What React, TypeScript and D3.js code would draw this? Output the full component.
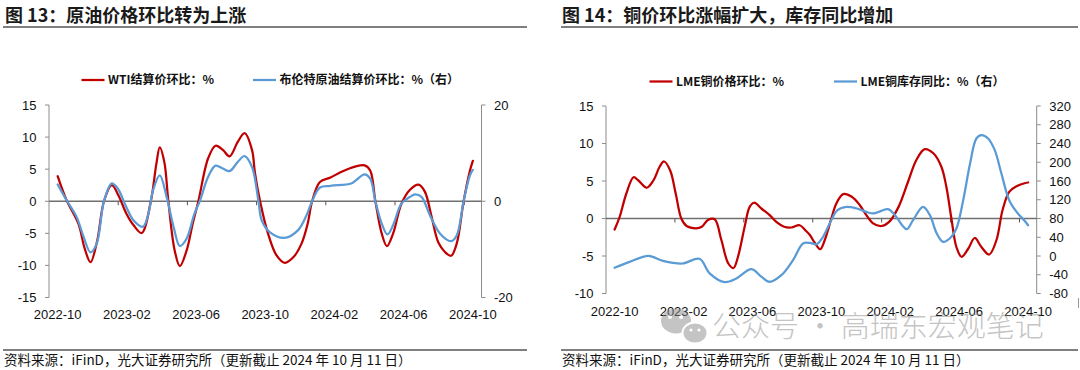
import React from "react";
import * as d3 from "d3";

// ---------- categories / tick labels ----------
const months = [
  "2022-10","2022-11","2022-12","2023-01","2023-02","2023-03","2023-04","2023-05","2023-06",
  "2023-07","2023-08","2023-09","2023-10","2023-11","2023-12","2024-01","2024-02","2024-03",
  "2024-04","2024-05","2024-06","2024-07","2024-08","2024-09","2024-10",
];
const monthTickLabels = ["2022-10","2023-02","2023-06","2023-10","2024-02","2024-06","2024-10"];

// ---------- Fig 13: WTI (left axis) ----------
const wtiDates = ["2022-10-01","2022-10-17","2022-11-07","2022-11-18","2022-11-28","2022-12-10","2022-12-22","2023-01-05","2023-01-17","2023-01-31","2023-02-12","2023-02-25","2023-03-13","2023-03-23","2023-03-29","2023-04-06","2023-04-13","2023-04-24","2023-05-03","2023-05-15","2023-05-26","2023-06-05","2023-06-22","2023-07-05","2023-07-18","2023-07-30","2023-08-14","2023-08-26","2023-09-08","2023-09-13","2023-09-22","2023-10-06","2023-10-21","2023-11-05","2023-11-20","2023-12-04","2023-12-15","2023-12-23","2024-01-06","2024-01-25","2024-02-13","2024-03-07","2024-03-24","2024-04-03","2024-04-12","2024-04-23","2024-05-02","2024-05-13","2024-05-28","2024-06-12","2024-06-27","2024-07-08","2024-07-20","2024-08-01","2024-08-13","2024-08-24","2024-09-03","2024-09-15","2024-09-26","2024-10-01"];
const wtiValues = [3.9,0.15,-3.5,-7.4,-9.5,-6.1,0,2.5,0.9,-1.9,-3.75,-4.95,0,5.9,8.4,6.1,0,-7.7,-10.1,-7.7,-3.5,0,6.7,8.65,8.0,7.0,9.3,10.6,8.0,4.5,0,-5.05,-8.4,-9.6,-8.7,-6.6,-3.5,0,3.0,3.7,4.6,5.4,5.6,4.8,0,-5.05,-7.0,-5.05,-0.4,1.8,2.6,1.5,-2.4,-6.4,-7.9,-8.5,-6.6,0,4.8,6.3];

// ---------- Fig 13: Brent (right axis) ----------
const brentDates = ["2022-10-01","2022-10-17","2022-11-04","2022-11-16","2022-11-28","2022-12-09","2022-12-22","2023-01-05","2023-01-16","2023-01-31","2023-02-12","2023-02-27","2023-03-08","2023-03-17","2023-03-29","2023-04-10","2023-04-22","2023-05-03","2023-05-15","2023-05-29","2023-06-08","2023-06-22","2023-07-05","2023-07-18","2023-07-30","2023-08-14","2023-08-26","2023-09-08","2023-09-19","2023-09-25","2023-10-09","2023-11-05","2023-11-28","2023-12-13","2023-12-23","2024-01-06","2024-01-25","2024-02-29","2024-03-09","2024-03-24","2024-04-03","2024-04-12","2024-04-23","2024-05-03","2024-05-13","2024-05-28","2024-06-12","2024-06-21","2024-07-02","2024-07-17","2024-08-04","2024-08-24","2024-09-03","2024-09-15","2024-09-26","2024-10-01"];
const brentValues = [3.5,0.2,-3.3,-7.4,-10.6,-8.8,0,3.7,2.6,-1.2,-4.0,-5.3,-2.9,2.3,5.4,0.9,-5.3,-9.3,-7.8,-2.6,0.2,5.1,7.4,6.8,6.25,8.2,9.4,7.15,0.2,-4.0,-6.4,-7.6,-6.0,-2.9,0,2.85,3.2,3.7,4.4,5.6,4.7,0,-4.65,-6.9,-5.0,-0.5,0.9,1.45,0.9,-2.9,-6.7,-8.3,-7.1,0,5.4,6.5];

// ---------- Fig 14: LME copper price MoM (left axis) ----------
const lmePriceDates = ["2022-10-01","2022-10-10","2022-10-22","2022-11-04","2022-11-12","2022-11-27","2022-12-09","2022-12-20","2022-12-28","2023-01-08","2023-01-18","2023-01-28","2023-02-06","2023-02-21","2023-03-03","2023-03-14","2023-03-26","2023-04-07","2023-04-19","2023-04-28","2023-05-06","2023-05-18","2023-05-27","2023-06-04","2023-06-17","2023-07-01","2023-07-13","2023-07-27","2023-08-09","2023-08-24","2023-09-03","2023-09-11","2023-09-20","2023-09-29","2023-10-07","2023-10-19","2023-10-28","2023-11-09","2023-11-24","2023-12-08","2023-12-20","2024-01-01","2024-01-16","2024-01-30","2024-02-15","2024-03-02","2024-03-17","2024-04-01","2024-04-16","2024-04-30","2024-05-09","2024-05-18","2024-05-27","2024-06-05","2024-06-17","2024-06-28","2024-07-10","2024-07-24","2024-08-06","2024-08-17","2024-08-29","2024-09-11","2024-09-25","2024-10-01"];
const lmePriceValues = [-1.47,0.2,3.3,5.5,5.1,4.1,5.1,6.9,7.6,6.4,3.3,0,-1.0,-1.3,-1.1,-0.2,-0.1,-2.9,-6.0,-6.6,-5.1,-1.1,1.55,2.1,1.3,0.45,-0.45,-1.1,-1.2,-0.9,-1.55,-2.2,-3.3,-4.1,-2.9,0,2.0,3.25,2.9,1.8,0.45,-0.65,-1.0,-0.45,1.55,4.9,7.8,9.25,8.7,6.9,4.2,0,-3.8,-5.1,-4.0,-2.6,-3.8,-4.8,-2.9,1.1,3.55,4.3,4.7,4.8];

// ---------- Fig 14: LME copper inventory YoY (right axis) ----------
const lmeStockDates = ["2022-10-01","2022-10-28","2022-11-30","2022-12-26","2023-01-30","2023-02-27","2023-03-17","2023-04-13","2023-05-03","2023-05-30","2023-06-17","2023-07-01","2023-07-22","2023-08-12","2023-08-30","2023-09-11","2023-09-23","2023-10-04","2023-10-16","2023-10-30","2023-11-15","2023-12-03","2023-12-20","2024-01-01","2024-01-16","2024-01-28","2024-02-09","2024-02-21","2024-02-29","2024-03-11","2024-03-29","2024-04-10","2024-04-22","2024-05-03","2024-05-15","2024-05-27","2024-06-08","2024-06-20","2024-07-01","2024-07-10","2024-07-22","2024-08-03","2024-08-15","2024-08-29","2024-09-11","2024-09-25","2024-10-01"];
const lmeStockValues = [-25,-12.5,0.3,-10.3,-16,-6,-37,-55.8,-48,-28,-44.5,-55.1,-41,-8.9,26.7,28,25,40.9,69.3,97.8,104.9,101.3,94.2,90.7,96.4,99.9,87.1,65.8,57.2,76.4,104.9,87.1,48,30.2,37.3,58.7,119.1,197.4,250.7,257.8,250.7,225.8,176,119.1,94.2,75,65.7];

// ---------- axis ticks ----------
const fig13LeftTicks = [15, 10, 5, 0, -5, -10, -15];
const fig13RightTicks = [20, 0, -20];
const fig14LeftTicks = [15, 10, 5, 0, -5, -10];
const fig14RightTicks = [320, 280, 240, 200, 160, 120, 80, 40, 0, -40, -80];

const RED = "#C00000";
const BLUE = "#5B9BD5";
const CJK = "'Noto Sans CJK SC', 'Noto Sans', sans-serif";
const NUM = "'Liberation Sans', Arial, sans-serif";
const AXIS = "#8c8c8c";

type Series = { dates: string[]; values: number[]; color: string; axis: "left" | "right" };

type PanelProps = {
  x0: number; x1: number; y0: number; y1: number;
  leftDomain: [number, number]; rightDomain: [number, number];
  leftTicks: number[]; rightTicks: number[];
  series: Series[]; labelY: number;
};

function Panel(p: PanelProps) {
  const band = d3.scaleBand<string>().domain(months).range([p.x0, p.x1]).paddingInner(0).paddingOuter(0);
  const bw = band.bandwidth();
  const yL = d3.scaleLinear().domain(p.leftDomain).range([p.y1, p.y0]);
  const yR = d3.scaleLinear().domain(p.rightDomain).range([p.y1, p.y0]);
  const xOf = (s: string) => {
    const key = s.slice(0, 7);
    const day = +s.slice(8, 10);
    const dim = new Date(+s.slice(0, 4), +s.slice(5, 7), 0).getDate();
    return (band(key) as number) + bw * (0.5 + (day - 1) / dim);
  };
  const zeroY = yL(0);
  const tickBoundaries = months.map((m, i) => i).filter((i) => i > 0 && i % 4 === 0);

  return (
    <g>
      {/* left axis */}
      <line x1={p.x0} x2={p.x0} y1={p.y0} y2={p.y1} stroke={AXIS} strokeWidth={1} />
      {p.leftTicks.map((t) => (
        <g key={"l" + t}>
          <line x1={p.x0 - 4} x2={p.x0} y1={yL(t)} y2={yL(t)} stroke={AXIS} strokeWidth={1} />
          <text x={p.x0 - 12.5} y={yL(t)} dy="0.35em" textAnchor="end" fontSize={13} fontFamily={NUM} fill="#111">{t}</text>
        </g>
      ))}
      {/* right axis */}
      <line x1={p.x1} x2={p.x1} y1={p.y0} y2={p.y1} stroke={AXIS} strokeWidth={1} />
      {p.rightTicks.map((t) => (
        <g key={"r" + t}>
          <line x1={p.x1} x2={p.x1 + 4} y1={yR(t)} y2={yR(t)} stroke={AXIS} strokeWidth={1} />
          <text x={p.x1 + 12.5} y={yR(t)} dy="0.35em" textAnchor="start" fontSize={13} fontFamily={NUM} fill="#111">{t}</text>
        </g>
      ))}
      {/* zero line + category ticks */}
      <line x1={p.x0} x2={p.x1} y1={zeroY} y2={zeroY} stroke="#707070" strokeWidth={1.3} />
      {tickBoundaries.map((i) => {
        const x = band(months[i]) as number;
        return <line key={"t" + i} x1={x} x2={x} y1={zeroY} y2={zeroY + 4} stroke="#555" strokeWidth={1} />;
      })}
      {monthTickLabels.map((m) => (
        <text key={m} x={(band(m) as number) + bw / 2} y={p.labelY} dy="0.35em" textAnchor="middle" fontSize={13} fontFamily={NUM} fill="#111">{m}</text>
      ))}
      {/* series */}
      {p.series.map((s, si) => {
        const y = s.axis === "left" ? yL : yR;
        const n = Math.min(s.dates.length, s.values.length);
        const pts: [number, number][] = d3.range(n).map((i) => [xOf(s.dates[i]), y(s.values[i])]);
        const path = d3.line().curve(d3.curveCatmullRom.alpha(0.5))(pts) || "";
        return <path key={si} d={path} fill="none" stroke={s.color} strokeWidth={2.25} strokeLinejoin="round" strokeLinecap="round" />;
      })}
    </g>
  );
}

function Legend({ items }: { items: { x: number; y: number; color: string; label: string }[] }) {
  return (
    <g>
      {items.map((it) => (
        <g key={it.label}>
          <line x1={it.x} x2={it.x + 23} y1={it.y} y2={it.y} stroke={it.color} strokeWidth={2.25} />
          <text x={it.x + 26.5} y={it.y} dy="0.36em" fontSize={12} fontWeight="bold" fontFamily={CJK} fill="#111">{it.label}</text>
        </g>
      ))}
    </g>
  );
}

export default function App() {
  const source = "资料来源：iFinD，光大证券研究所（更新截止 2024 年 10 月 11 日）";
  return (
    <svg width={1080} height={370} viewBox="0 0 1080 370" style={{ position: "absolute", left: 0, top: 0, display: "block" }}>
      <rect x={0} y={0} width={1080} height={370} fill="#ffffff" />

      {/* titles */}
      <text x={5} y={21.5} fontSize={18} fontWeight="bold" fontFamily={CJK} fill="#1a1a1a">图 13：原油价格环比转为上涨</text>
      <line x1={3} x2={527} y1={27} y2={27} stroke="#000" strokeWidth={1.2} />
      <text x={562} y={21.5} fontSize={18} fontWeight="bold" fontFamily={CJK} fill="#1a1a1a">图 14：铜价环比涨幅扩大，库存同比增加</text>
      <line x1={561} x2={1078} y1={27} y2={27} stroke="#000" strokeWidth={1.2} />

      {/* legends */}
      <Legend items={[
        { x: 81.5, y: 80, color: RED, label: "WTI结算价环比：%" },
        { x: 253, y: 80, color: BLUE, label: "布伦特原油结算价环比：%（右）" },
      ]} />
      <Legend items={[
        { x: 649.5, y: 81.5, color: RED, label: "LME铜价格环比：%" },
        { x: 834, y: 81.5, color: BLUE, label: "LME铜库存同比：%（右）" },
      ]} />

      <Panel
        x0={49} x1={481.5} y0={105} y1={297.5}
        leftDomain={[-15, 15]} rightDomain={[-20, 20]}
        leftTicks={fig13LeftTicks} rightTicks={fig13RightTicks}
        labelY={314.5}
        series={[
          { dates: wtiDates, values: wtiValues, color: RED, axis: "left" },
          { dates: brentDates, values: brentValues, color: BLUE, axis: "right" },
        ]}
      />
      <Panel
        x0={606} x1={1036.7} y0={106} y1={293.5}
        leftDomain={[-10, 15]} rightDomain={[-80, 320]}
        leftTicks={fig14LeftTicks} rightTicks={fig14RightTicks}
        labelY={311}
        series={[
          { dates: lmePriceDates, values: lmePriceValues, color: RED, axis: "left" },
          { dates: lmeStockDates, values: lmeStockValues, color: BLUE, axis: "right" },
        ]}
      />

      {/* watermark */}
      <g opacity={0.5}>
        <ellipse cx={676} cy={321} rx={15} ry={12.5} fill="#8a8a8a" />
        <ellipse cx={695} cy={333} rx={12.5} ry={10.5} fill="#8a8a8a" stroke="#fff" strokeWidth={2} />
        <circle cx={670} cy={317} r={2} fill="#fff" />
        <circle cx={681} cy={317} r={2} fill="#fff" />
        <circle cx={691} cy={330} r={1.6} fill="#fff" />
        <circle cx={699} cy={330} r={1.6} fill="#fff" />
        <text x={712} y={337} fontSize={29} fontFamily={CJK} fontWeight={300} fill="#8a8a8a">公众号 · 高瑞东宏观笔记</text>
      </g>
      <line x1={1078.5} x2={1078.5} y1={298} y2={308} stroke="#999" strokeWidth={1} />

      {/* footers */}
      <line x1={3} x2={527} y1={350} y2={350} stroke="#000" strokeWidth={1.2} />
      <text x={4} y={360} dy="0.36em" fontSize={13.5} fontFamily={CJK} fill="#111">{source}</text>
      <line x1={561} x2={1078} y1={350} y2={350} stroke="#000" strokeWidth={1.2} />
      <text x={562} y={360} dy="0.36em" fontSize={13.5} fontFamily={CJK} fill="#111">{source}</text>
    </svg>
  );
}
